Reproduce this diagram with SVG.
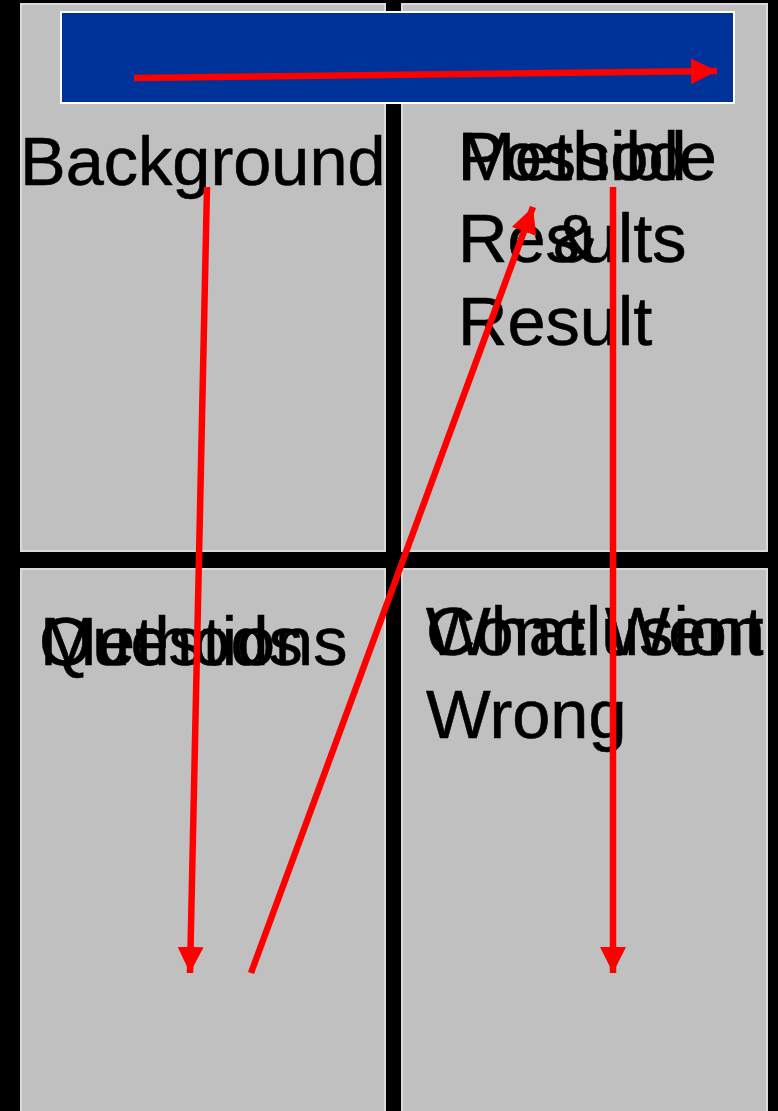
<svg xmlns="http://www.w3.org/2000/svg" width="778" height="1111" viewBox="0 0 778 1111">
  <style>
    .panel { fill: #c0c0c0; stroke: #dadada; stroke-width: 2; }
    .t { font-family: "Liberation Sans", Arial, sans-serif; font-size: 68.5px; fill: #000; stroke: #000; stroke-width: 0.6; }
    .arrow { stroke: #ff0000; stroke-width: 6.5; fill: none; marker-end: url(#ah); }
  </style>
  <defs>
    <marker id="ah" markerUnits="userSpaceOnUse" markerWidth="26" markerHeight="26" viewBox="0 0 24 24" refX="24" refY="12" orient="auto">
      <path d="M0,0 L24,12 L0,24 Z" fill="#ff0000"/>
    </marker>
  </defs>
  <rect x="0" y="0" width="778" height="1111" fill="#000"/>

  <g id="panel-top-left">
    <rect class="panel" x="21" y="4" width="364" height="547"/>
    <text class="t" x="20" y="185">Background</text>
  </g>
  <g id="panel-top-right">
    <rect class="panel" x="402" y="4" width="365" height="547"/>
    <text class="t" x="458" y="180">Possible</text>
    <text class="t" x="458" y="262">Results</text>
    <text class="t" x="458" y="180">Method</text>
    <text class="t" x="553" y="262">&amp;</text>
    <text class="t" x="458" y="345">Result</text>
  </g>
  <g id="panel-bottom-left">
    <rect class="panel" x="21" y="569" width="364" height="560"/>
    <text class="t" x="39" y="665">Questions</text>
    <text class="t" x="40" y="665">Methods</text>
  </g>
  <g id="panel-bottom-right">
    <rect class="panel" x="402" y="569" width="365" height="560"/>
    <text class="t" x="426" y="655">Conclusion</text>
    <text class="t" x="426" y="655">What Went</text>
    <text class="t" x="426" y="738">Wrong</text>
  </g>
  <g id="title-bar">
    <rect x="61" y="12" width="673" height="91" fill="#003399" stroke="#ffffff" stroke-width="2"/>
  </g>

  <g id="connectors">
    <path class="arrow" d="M134,78 L717,71"/>
    <path class="arrow" d="M207,187 L190,973"/>
    <path class="arrow" d="M251,973 L533,207"/>
    <path class="arrow" d="M613,187 L613,973"/>
  </g>
</svg>
